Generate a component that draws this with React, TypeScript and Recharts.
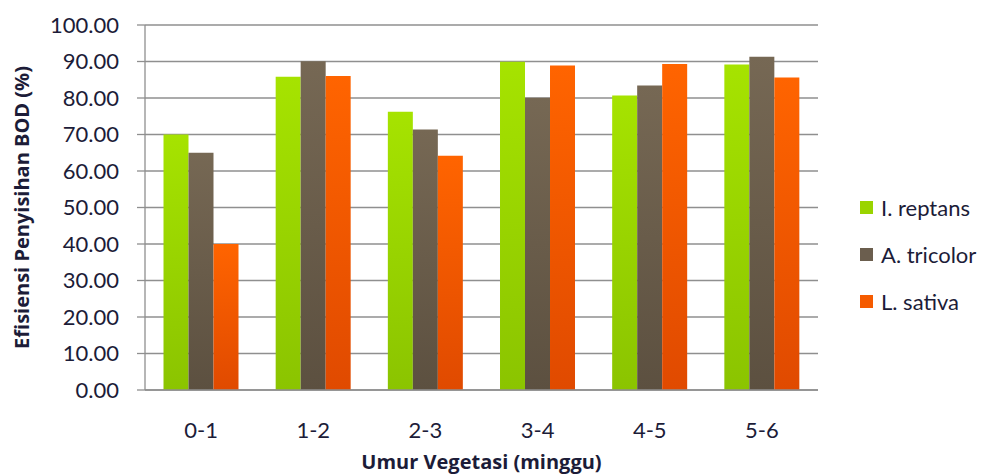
import React from 'react'
import { BarChart, Bar, CartesianGrid, XAxis, YAxis, Legend } from 'recharts';

const categories = ['0-1', '1-2', '2-3', '3-4', '4-5', '5-6'];
const reptans = [70.0, 85.8, 76.2, 89.9, 80.7, 89.2];
const tricolor = [65.0, 90.1, 71.4, 80.1, 83.4, 91.3];
const sativa = [40.0, 86.0, 64.2, 88.9, 89.3, 85.6];
const yTicks = [0, 10, 20, 30, 40, 50, 60, 70, 80, 90, 100];

const seriesList = [
  { key: 'reptans', name: 'I. reptans', top: '#a6e300', bottom: '#8bc400', swatch: '#9ad400' },
  { key: 'tricolor', name: 'A. tricolor', top: '#766854', bottom: '#5c5040', swatch: '#6b5e4e' },
  { key: 'sativa', name: 'L. sativa', top: '#ff6400', bottom: '#e04a00', swatch: '#f55b00' },
];

const data = categories.map((c, i) => ({
  week: c,
  reptans: reptans[i],
  tricolor: tricolor[i],
  sativa: sativa[i],
}));

const FONT = 'Lato, "Open Sans", sans-serif';
const TITLE_FONT = '"Open Sans", Lato, sans-serif';
const TEXT = '#1c1c38';

const LegendBox = () => (
  <div style={{ paddingLeft: 42, fontFamily: FONT, fontSize: 22, color: TEXT, whiteSpace: 'nowrap' }}>
    {seriesList.map((s) => (
      <div key={s.key} style={{ display: 'flex', alignItems: 'center', height: 47 }}>
        <span style={{ width: 13, height: 13, background: s.swatch, marginRight: 8, flexShrink: 0 }} />
        {s.name}
      </div>
    ))}
  </div>
);

const App = () => {
  return (
    <div style={{ position: 'absolute', left: 0, top: 0, background: '#fff' }}>
      <BarChart
        width={990}
        height={475}
        data={data}
        margin={{ top: 25, right: 0, bottom: 0, left: 0 }}
        barCategoryGap="16.5%"
        barGap={0}
      >
        <defs>
          {seriesList.map((s) => (
            <linearGradient key={s.key} id={'g-' + s.key} x1="0" y1="0" x2="0" y2="1">
              <stop offset="0%" stopColor={s.top} />
              <stop offset="100%" stopColor={s.bottom} />
            </linearGradient>
          ))}
        </defs>
        <CartesianGrid vertical={false} stroke="#8f8f8f" strokeWidth={1.3} />
        <XAxis
          dataKey="week"
          height={85}
          tickLine={false}
          axisLine={{ stroke: '#8f8f8f', strokeWidth: 1.3 }}
          tickMargin={26}
          tick={{ fill: TEXT, fontSize: 22, fontFamily: FONT }}
          label={{
            value: 'Umur Vegetasi (minggu)',
            position: 'insideBottom',
            offset: 6,
            style: { fill: TEXT, fontSize: 20, fontWeight: 700, fontFamily: TITLE_FONT },
          }}
        />
        <YAxis
          width={145}
          domain={[0, 100]}
          ticks={yTicks}
          interval={0}
          tickSize={8}
          tickMargin={18}
          tickLine={{ stroke: '#8f8f8f', strokeWidth: 1.3 }}
          axisLine={{ stroke: '#8f8f8f', strokeWidth: 1.3 }}
          tickFormatter={(v: number) => v.toFixed(2)}
          tick={{ fill: TEXT, fontSize: 22, fontFamily: FONT }}
          label={{
            value: 'Efisiensi Penyisihan BOD (%)',
            angle: -90,
            position: 'insideLeft',
            offset: 22,
            style: { fill: TEXT, fontSize: 20, fontWeight: 700, fontFamily: TITLE_FONT, textAnchor: 'middle' },
          }}
        />
        <Legend
          layout="vertical"
          align="right"
          verticalAlign="middle"
          width={172}
          wrapperStyle={{ top: 184, right: 0 }}
          content={() => <LegendBox />}
        />
        {seriesList.map((s) => (
          <Bar key={s.key} dataKey={s.key} name={s.name} fill={`url(#g-${s.key})`} isAnimationActive={false} />
        ))}
      </BarChart>
    </div>
  )
}

export default App
